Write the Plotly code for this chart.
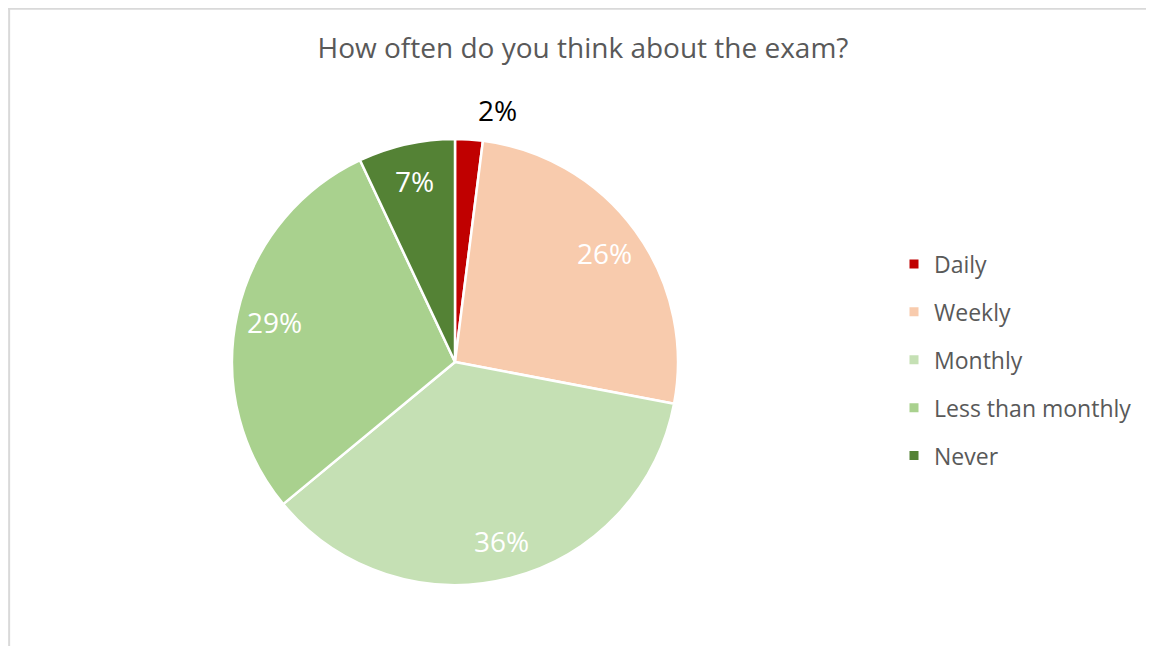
import math
import plotly.graph_objects as go

categories = ["Daily", "Weekly", "Monthly", "Less than monthly", "Never"]
values = [2, 26, 36, 29, 7]
colors = ["#C00000", "#F8CBAD", "#C5E0B4", "#A9D18E", "#548235"]
label_colors = ["#000000", "white", "white", "white", "white"]

# page body has an 8px margin; figure sized to fit the window
OFF = 8
W, H = 1154 - OFF, 646 - OFF
FONT = "Open Sans"


def fx(x):
    return (x - OFF) / W


def fy(y):
    return 1 - (y - OFF) / H


cx, cy, R = 455, 362, 223

fig = go.Figure()
fig.add_trace(go.Pie(
    labels=categories, values=values, sort=False, direction="clockwise",
    rotation=0, marker=dict(colors=colors, line=dict(color="white", width=2.5)),
    textinfo="none", showlegend=False, hoverinfo="label+percent",
    domain=dict(x=[fx(cx - R), fx(cx + R)], y=[fy(cy + R), fy(cy - R)]),
))

# legend entries via dummy traces (for spacing control)
for c, col in zip(categories, colors):
    fig.add_trace(go.Scatter(x=[None], y=[None], mode="markers", name=c,
                             marker=dict(symbol="square", size=9, color=col),
                             legendgroup=c, showlegend=True))

# percentage labels
total = sum(values)
cum = 0
annotations = []
for i, v in enumerate(values):
    mid = (cum + v / 2) / total * 2 * math.pi
    cum += v
    if i == 0:
        px, py = 497, 110
    else:
        rr = 0.83 * R
        px = cx + rr * math.sin(mid)
        py = cy - rr * math.cos(mid)
    annotations.append(dict(x=fx(px), y=fy(py), xref="paper", yref="paper",
                            xanchor="center", yanchor="middle",
                            text=f"{round(v / total * 100)}%", showarrow=False,
                            font=dict(family=FONT, size=28, color=label_colors[i])))

fig.update_layout(
    width=W, height=H, margin=dict(l=0, r=0, t=0, b=0),
    paper_bgcolor="white", plot_bgcolor="white",
    xaxis=dict(visible=False), yaxis=dict(visible=False),
    title=dict(text="How often do you think about the exam?", x=fx(583), xanchor="center",
               y=fy(48), yanchor="middle",
               font=dict(family=FONT, size=28, color="#595959")),
    legend=dict(x=fx(934 - 40), xanchor="left", y=fy(360), yanchor="middle",
                font=dict(family=FONT, size=23, color="#595959"),
                tracegroupgap=15, itemclick=False),
    annotations=annotations,
    shapes=[
        dict(type="line", xref="paper", yref="paper", x0=0.001, x1=0.001, y0=0, y1=1,
             line=dict(color="#D9D9D9", width=2)),
        dict(type="line", xref="paper", yref="paper", x0=0, x1=1, y0=0.999, y1=0.999,
             line=dict(color="#D9D9D9", width=2)),
        dict(type="line", xref="paper", yref="paper", x0=fx(1151), x1=fx(1151), y0=0, y1=1,
             line=dict(color="#F0F0F0", width=1)),
    ],
)

fig.write_html("out.html")
